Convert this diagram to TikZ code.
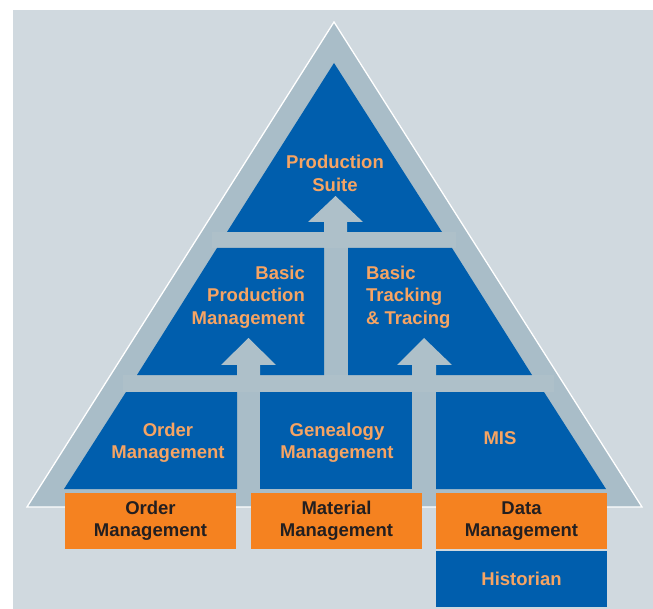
\documentclass[tikz,border=0pt]{standalone}
\usepackage{fontspec}
\setmainfont{Liberation Sans}
\definecolor{bggray}{HTML}{D0D9DF}
\definecolor{trigray}{HTML}{A9BDC8}
\definecolor{bargray}{HTML}{AEC0C9}
\definecolor{suiteblue}{HTML}{005EAD}
\definecolor{modorange}{HTML}{F58220}
\definecolor{lbltext}{HTML}{F6A463}
\definecolor{darktext}{HTML}{231F20}
\tikzset{
  lbl/.style={font=\fontsize{18.5}{22.5}\selectfont\bfseries, text=lbltext, inner sep=0pt, align=center},
  modbox/.style={fill=modorange, minimum width=171pt, minimum height=56pt, inner sep=0pt,
    font=\fontsize{18.5}{22}\selectfont\bfseries, text=darktext, align=center},
  histbox/.style={modbox, fill=suiteblue, text=lbltext}
}
\begin{document}
\begin{tikzpicture}[x=1pt,y=-1pt]
\fill[white] (0,0) rectangle (653,609);
\fill[bggray] (13,10) rectangle (653,609);
% pyramid
\filldraw[fill=trigray, draw=white, line width=1.3pt] (334,22) -- (642,507) -- (27,507) -- cycle;
\fill[bargray] (212,232) rectangle (456,248);
\fill[bargray] (123,375) rectangle (554,392);
\fill[suiteblue] (334,63) -- (442,232) -- (227,232) -- cycle;
\fill[suiteblue] (217,248) -- (324,248) -- (324,375) -- (137,375) -- cycle;
\fill[suiteblue] (348,248) -- (452,248) -- (532,375) -- (348,375) -- cycle;
\fill[suiteblue] (126,392) -- (237,392) -- (237,489) -- (64,489) -- cycle;
\fill[suiteblue] (260,392) rectangle (412,489);
\fill[suiteblue] (436,392) -- (544,392) -- (606,489) -- (436,489) -- cycle;
% arrows
\fill[bargray] (324,248) -- (324,222) -- (308,222) -- (335.5,196) -- (363,222) -- (347,222) -- (347,248) -- cycle;
\fill[bargray] (237,392) -- (237,365) -- (221,365) -- (248.5,338) -- (276,365) -- (260,365) -- (260,392) -- cycle;
\fill[bargray] (412,392) -- (412,365) -- (397,365) -- (424,338) -- (452,365) -- (436,365) -- (436,392) -- cycle;
% labels
\node[lbl] (suite) at (335,173.5) {Production\\Suite};
\node[lbl, anchor=east, align=right] (bpm) at (305,297) {Basic\\Production\\Management};
\node[lbl, anchor=west, align=left] (btt) at (366,297) {Basic\\Tracking\\\& Tracing};
\node[lbl] (ordblue) at (168,443) {Order\\Management};
\node[lbl] (gen) at (337,443) {Genealogy\\Management};
\node[lbl] (mis) at (500,438) {MIS};
% modules
\node[modbox] (ordmod) at (150.5,521) {Order\\Management};
\node[modbox] (matmod) at (336.5,521) {Material\\Management};
\node[modbox] (datmod) at (521.5,521) {Data\\Management};
\node[histbox] (hist) at (521.5,579) {Historian};
\end{tikzpicture}
\end{document}
